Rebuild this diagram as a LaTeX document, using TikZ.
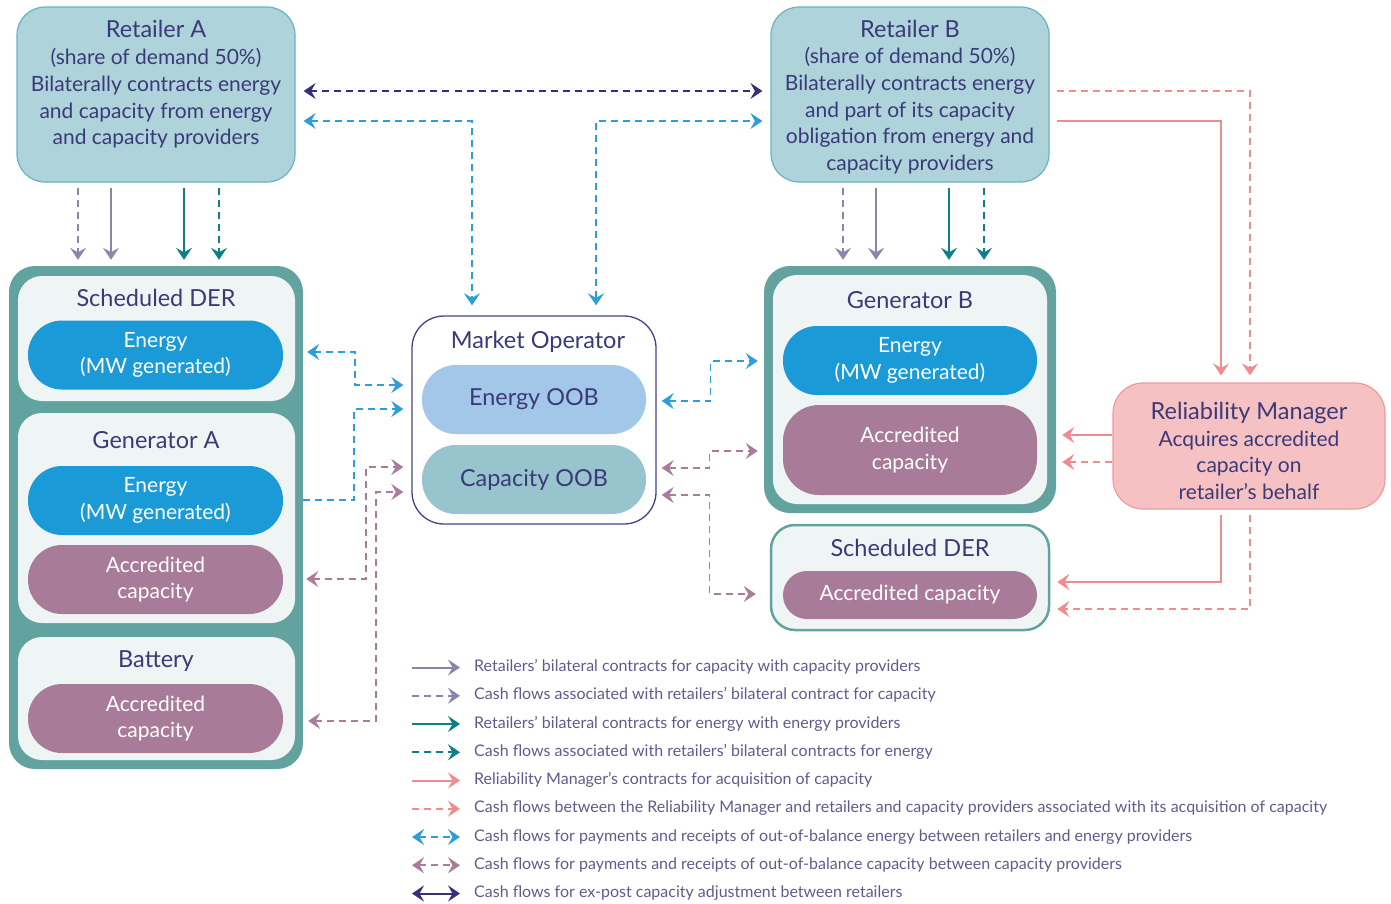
\documentclass[tikz,border=0pt]{standalone}
\usepackage{fontspec}
\setmainfont{Lato}
\usetikzlibrary{arrows.meta}

\definecolor{navytext}{HTML}{3B3A78}
\definecolor{legcol}{HTML}{5E5C8C}
\definecolor{retfill}{HTML}{AED3DB}
\definecolor{retline}{HTML}{68B3BF}
\definecolor{tealframe}{HTML}{62A3A0}
\definecolor{innerfill}{HTML}{EFF5F5}
\definecolor{enfill}{HTML}{1A9BD7}
\definecolor{accfill}{HTML}{A87C99}
\definecolor{mocol}{HTML}{4A4185}
\definecolor{oobenfill}{HTML}{A2C7E9}
\definecolor{oobcapfill}{HTML}{98C4CE}
\definecolor{rmfill}{HTML}{F6C1C2}
\definecolor{rmedge}{HTML}{EE9A9C}
\definecolor{capcol}{HTML}{8C84AC}
\definecolor{encol}{HTML}{0E7F86}
\definecolor{rmcol}{HTML}{EE8C90}
\definecolor{bluecol}{HTML}{2C9FDA}
\definecolor{mauvecol}{HTML}{A87C9A}
\definecolor{navycol}{HTML}{35307A}

\newcommand\boxfont{\fontsize{21}{26.7}\selectfont}
\newcommand\ttlfont{\fontsize{23.5}{26.7}\selectfont}
\newcommand\oobfont{\fontsize{23.4}{28}\selectfont}
\newcommand\legfont{\fontsize{16}{18}\selectfont}

\tikzset{
  retbox/.style={draw=retline, fill=retfill, line width=1.2pt, rounded corners=28pt,
    minimum width=278pt, minimum height=175pt},
  boxtext/.style={align=center, text=navytext, font=\boxfont, inner sep=0pt},
  ttltext/.style={boxtext, font=\ttlfont},
  grpframe/.style={fill=tealframe, rounded corners=26pt},
  innerbox/.style={fill=innerfill, rounded corners=24pt},
  enpill/.style={fill=enfill, text=white, align=center, font=\boxfont, inner sep=0pt,
    rounded corners=34pt, minimum width=255pt, minimum height=69pt},
  accpill/.style={enpill, fill=accfill},
  oobpill/.style={text=navytext, font=\oobfont, inner sep=0pt,
    rounded corners=34pt, minimum width=224pt, minimum height=69pt},
  rmbox/.style={draw=rmedge, fill=rmfill, line width=1.2pt, rounded corners=30pt,
    minimum width=272pt, minimum height=126pt},
  legtext/.style={anchor=west, inner sep=0pt, text=legcol, font=\legfont,
    text height=11pt, text depth=3pt},
  headtip/.style={>={Stealth[length=12pt,width=16pt,inset=4.5pt]}},
  flowsolid/.style={line width=2pt, headtip, ->},
  flowdash/.style={line width=1.6pt, headtip, ->, dash pattern=on 7pt off 5pt},
  downarr/.style={shorten <=5pt, shorten >=6pt},
  capline/.style={flowsolid, draw=capcol},
  capcash/.style={flowdash, draw=capcol},
  enline/.style={flowsolid, draw=encol},
  encash/.style={flowdash, draw=encol},
  rmline/.style={flowsolid, draw=rmcol},
  rmcash/.style={flowdash, draw=rmcol},
  oobenergy/.style={flowdash, <->, draw=bluecol},
  oobcap/.style={flowdash, <->, draw=mauvecol},
  adjline/.style={flowsolid, <->, draw=navycol}
}

\begin{document}
\begin{tikzpicture}[x=1pt,y=-1pt]
\useasboundingbox (0,0) rectangle (1391,903);

\node[retbox] (retA) at (156,94.5) {};
\node[boxtext] (retAtxt) at (156,84.5) {{\ttlfont Retailer A}\\(share of demand 50\%)\\Bilaterally contracts energy\\and capacity from energy\\and capacity providers};
\node[retbox] (retB) at (910,94.5) {};
\node[boxtext] (retBtxt) at (910,97) {{\ttlfont Retailer B}\\(share of demand 50\%)\\Bilaterally contracts energy\\and part of its capacity\\obligation from energy and\\capacity providers};

\node[grpframe, minimum width=294pt, minimum height=503pt] (leftgrp) at (156,517.5) {};
\node[innerbox, minimum width=277pt, minimum height=125pt] (sderA) at (156.5,338.5) {};
\node[ttltext] (sderAttl) at (156,298) {Scheduled DER};
\node[enpill] (enA1) at (155.5,355) {Energy\\(MW generated)};
\node[innerbox, minimum width=277pt, minimum height=210pt] (genA) at (156.5,518) {};
\node[ttltext] (genAttl) at (156,440) {Generator A};
\node[enpill] (enA2) at (155.5,500.5) {Energy\\(MW generated)};
\node[accpill] (accA) at (155.5,579.5) {Accredited\\capacity};
\node[innerbox, minimum width=277pt, minimum height=123pt] (batt) at (156.5,698.5) {};
\node[ttltext] (battttl) at (156,661) {Battery};
\node[accpill] (accB) at (155.5,718.5) {Accredited\\capacity};

\node[draw=mocol, line width=1.3pt, fill=white, rounded corners=32pt,
  minimum width=244pt, minimum height=208pt] (mo) at (534,420) {};
\node[ttltext] (mottl) at (538,342) {Market Operator};
\node[oobpill, fill=oobenfill] (enOOB) at (534,399.5) {Energy OOB};
\node[oobpill, fill=oobcapfill] (capOOB) at (534,479.5) {Capacity OOB};

\node[grpframe, minimum width=292pt, minimum height=247pt] (genBgrp) at (910,389.5) {};
\node[innerbox, minimum width=274pt, minimum height=229pt] (genB) at (910,389.5) {};
\node[ttltext] (genBttl) at (910,300) {Generator B};
\node[enpill, minimum width=254pt] (enB) at (910,360.5) {Energy\\(MW generated)};
\node[accpill, minimum width=254pt, minimum height=90pt, rounded corners=36pt] (accC) at (910,450) {Accredited\\capacity};

\node[innerbox, draw=tealframe, line width=2.5pt, minimum width=278pt, minimum height=105pt] (sderB) at (910,577.5) {};
\node[ttltext] (sderBttl) at (910,548) {Scheduled DER};
\node[accpill, minimum width=254pt, minimum height=48pt, rounded corners=24pt] (accD) at (910,595) {Accredited capacity};

\node[rmbox] (rm) at (1249,446) {};
\node[boxtext] (rmtxt) at (1249,451) {{\ttlfont Reliability Manager}\\Acquires accredited\\capacity on\\retailer’s behalf};

\draw[capcash, downarr] ([xshift=-78pt]retA.south) -- ([xshift=-78pt]leftgrp.north);
\draw[capline, downarr] ([xshift=-45pt]retA.south) -- ([xshift=-45pt]leftgrp.north);
\draw[enline, downarr] ([xshift=28pt]retA.south) -- ([xshift=28pt]leftgrp.north);
\draw[encash, downarr] ([xshift=63pt]retA.south) -- ([xshift=63pt]leftgrp.north);
\draw[capcash, downarr] ([xshift=-67pt]retB.south) -- ([xshift=-67pt]genBgrp.north);
\draw[capline, downarr] ([xshift=-34pt]retB.south) -- ([xshift=-34pt]genBgrp.north);
\draw[enline, downarr] ([xshift=39pt]retB.south) -- ([xshift=39pt]genBgrp.north);
\draw[encash, downarr] ([xshift=74pt]retB.south) -- ([xshift=74pt]genBgrp.north);

\draw[adjline, dash pattern=on 7pt off 5pt, shorten <=8pt, shorten >=8pt] ([yshift=3.5pt]retA.east) -- ([yshift=3.5pt]retB.west);
\draw[oobenergy, shorten <=8pt, shorten >=10pt] ([yshift=-26.5pt]retA.east) -| ([xshift=-62pt]mo.north);
\draw[oobenergy, shorten <=10pt, shorten >=8pt] ([xshift=62pt]mo.north) |- ([yshift=-26.5pt]retB.west);

\draw[oobenergy, shorten <=4pt, shorten >=8pt] ([yshift=165.5pt]leftgrp.east) -- ++(52,0) |- ([yshift=35pt]mo.west);
\draw[oobenergy, ->, shorten >=8pt] ([yshift=17.5pt]leftgrp.east) -- ++(51,0) |- ([yshift=11pt]mo.west);
\draw[oobcap, shorten <=3pt, shorten >=8pt] ([yshift=-61.5pt]leftgrp.east) -- ++(63,0) |- ([yshift=-47pt]mo.west);
\draw[oobcap, shorten <=5pt, shorten >=8pt] ([yshift=-203.5pt]leftgrp.east) -- ++(73,0) |- ([yshift=-72pt]mo.west);

\draw[oobenergy, shorten <=5pt, shorten >=6pt] ([yshift=19pt]mo.east) -- ++(54,0) |- ([yshift=28.5pt]genBgrp.west);
\draw[oobcap, shorten <=5pt, shorten >=6pt] ([yshift=-48pt]mo.east) -- ++(53,0) |- ([yshift=-61.5pt]genBgrp.west);
\draw[oobcap, shorten <=5pt, shorten >=14pt] ([yshift=-75pt]mo.east) -- ++(53,0) |- ([yshift=-16.5pt]sderB.west);

\draw[rmline, shorten <=7pt, shorten >=7pt] ([yshift=-26.5pt]retB.east) -| ([xshift=-28pt]rm.north);
\draw[rmcash, shorten <=7pt, shorten >=7pt] ([yshift=3.5pt]retB.east) -| ([xshift=1pt]rm.north);
\draw[rmline, shorten >=6pt] ([yshift=11pt]rm.west) -- ([yshift=-45.5pt]genBgrp.east);
\draw[rmcash, shorten >=6pt] ([yshift=-16pt]rm.west) -- ([yshift=-72.5pt]genBgrp.east);
\draw[rmline, shorten <=5pt, shorten >=7pt] ([xshift=-28pt]rm.south) |- ([yshift=-4.5pt]sderB.east);
\draw[rmcash, shorten <=5pt, shorten >=7pt] ([xshift=1pt]rm.south) |- ([yshift=-31.5pt]sderB.east);

\foreach \i/\st/\txt in {
  1/capline/{Retailers’ bilateral contracts for capacity with capacity providers},
  2/capcash/{Cash flows associated with retailers’ bilateral contract for capacity},
  3/enline/{Retailers’ bilateral contracts for energy with energy providers},
  4/encash/{Cash flows associated with retailers’ bilateral contracts for energy},
  5/rmline/{Reliability Manager’s contracts for acquisition of capacity},
  6/rmcash/{Cash flows between the Reliability Manager and retailers and capacity providers associated with its acquisition of capacity},
  7/oobenergy/{Cash flows for payments and receipts of out-of-balance energy between retailers and energy providers},
  8/oobcap/{Cash flows for payments and receipts of out-of-balance capacity between capacity providers},
  9/adjline/{Cash flows for ex-post capacity adjustment between retailers}}
{
  \node[legtext] (leg\i) at (474,{667.5+28.25*(\i-1)}) {\txt};
  \draw[\st] ([xshift=-62pt]leg\i.west) -- ([xshift=-14pt]leg\i.west);
}

\end{tikzpicture}
\end{document}
